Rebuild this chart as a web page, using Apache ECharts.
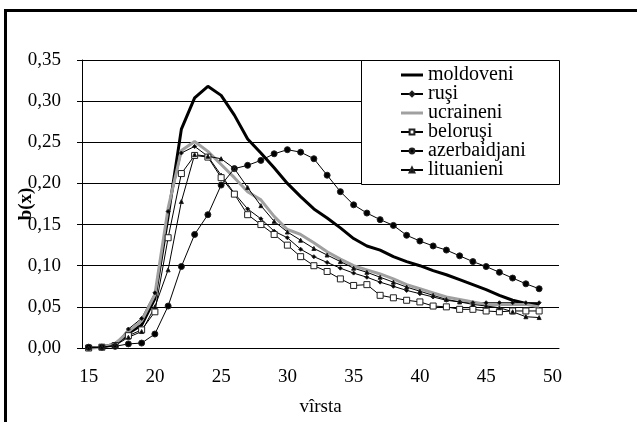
<!DOCTYPE html>
<html>
<head>
<meta charset="utf-8">
<style>
  html, body { margin: 0; padding: 0; background: #fff; }
  #chart { width: 637px; height: 422px; }
</style>
<script src="https://cdn.jsdelivr.net/npm/echarts@6/dist/echarts.min.js"></script>
</head>
<body>
<div id="chart"></div>
<script>
// varsta 15..50 (50 fara date)
var ages = [];
for (var a = 15; a <= 50; a++) ages.push(String(a));

var moldoveni = [0, 0.001, 0.005, 0.018, 0.028, 0.060, 0.160, 0.266, 0.304, 0.318,
  0.307, 0.283, 0.254, 0.237, 0.219, 0.200, 0.184, 0.169, 0.158, 0.146,
  0.133, 0.124, 0.119, 0.111, 0.105, 0.100, 0.094, 0.089, 0.083, 0.077,
  0.071, 0.064, 0.058, 0.054, 0.053];
var rusi = [0, 0.001, 0.005, 0.023, 0.036, 0.067, 0.166, 0.237, 0.245, 0.233,
  0.210, 0.188, 0.169, 0.157, 0.142, 0.134, 0.120, 0.111, 0.104, 0.097,
  0.091, 0.086, 0.080, 0.075, 0.070, 0.066, 0.062, 0.058, 0.056, 0.055,
  0.055, 0.055, 0.055, 0.055, 0.055];
var ucraineni = [0, 0.001, 0.005, 0.020, 0.033, 0.065, 0.170, 0.240, 0.251, 0.239,
  0.223, 0.207, 0.190, 0.180, 0.160, 0.144, 0.138, 0.128, 0.117, 0.108,
  0.100, 0.095, 0.090, 0.084, 0.077, 0.072, 0.067, 0.062, 0.059, 0.056,
  0.053, 0.053, 0.053, 0.053, 0.050];
var belorusi = [0, 0.001, 0.003, 0.015, 0.022, 0.044, 0.134, 0.212, 0.234, 0.232,
  0.207, 0.187, 0.162, 0.150, 0.138, 0.125, 0.111, 0.100, 0.093, 0.084,
  0.076, 0.077, 0.064, 0.061, 0.058, 0.056, 0.051, 0.050, 0.047, 0.047,
  0.045, 0.044, 0.045, 0.045, 0.045];
var azerbaidjani = [0.001, 0.001, 0.002, 0.005, 0.006, 0.017, 0.051, 0.099, 0.138, 0.162,
  0.198, 0.218, 0.222, 0.228, 0.236, 0.241, 0.238, 0.230, 0.210, 0.190,
  0.174, 0.164, 0.156, 0.149, 0.137, 0.130, 0.124, 0.119, 0.112, 0.105,
  0.099, 0.092, 0.085, 0.078, 0.072];
var lituanieni = [0, 0.001, 0.003, 0.013, 0.020, 0.050, 0.095, 0.178, 0.235, 0.233,
  0.230, 0.218, 0.195, 0.173, 0.154, 0.141, 0.131, 0.121, 0.113, 0.105,
  0.097, 0.092, 0.086, 0.080, 0.074, 0.069, 0.064, 0.059, 0.056, 0.053,
  0.051, 0.049, 0.044, 0.038, 0.037];

var font = "'Liberation Serif', 'Times New Roman', serif";
var thickIcon = 'path://M0,0 M22,6 M0,1.5 L22,1.5 L22,4.5 L0,4.5 Z';

var myChart = echarts.init(document.getElementById('chart'));

function thin(name, data, symbol, size, fill) {
  return {
    name: name,
    type: 'line',
    data: data,
    symbol: symbol,
    symbolSize: size,
    showAllSymbol: true,
    lineStyle: { color: '#000', width: 1 },
    itemStyle: { color: fill, borderColor: '#222', borderWidth: 1 }
  };
}

var option = {
  animation: false,
  backgroundColor: '#fff',
  textStyle: { fontFamily: font },
  grid: { left: 82, right: 78, top: 60, bottom: 74, containLabel: false, outerBoundsMode: 'none' },
  legend: {
    left: 400,
    top: 65,
    orient: 'vertical',
    padding: 0,
    itemGap: -1,
    itemWidth: 22,
    itemHeight: 6,
    textStyle: { fontFamily: font, fontSize: 20, color: '#000' },
    data: [
      { name: 'moldoveni', icon: thickIcon },
      'ruşi',
      { name: 'ucraineni', icon: thickIcon },
      'beloruşi', 'azerbaidjani', 'lituanieni'
    ],
    z: 5
  },
  graphic: [
    {
      type: 'rect',
      z: 3,
      shape: { x: 361.5, y: 60.5, width: 198, height: 124 },
      style: { fill: '#fff', stroke: '#000', lineWidth: 1 }
    },
    {
      type: 'polyline',
      z: 3,
      shape: { points: [[5.5, 430], [5.5, 10.5], [650, 10.5]] },
      style: { fill: null, stroke: '#000', lineWidth: 3 }
    }
  ],
  xAxis: {
    type: 'category',
    data: ages,
    boundaryGap: true,
    name: 'vîrsta',
    nameLocation: 'middle',
    nameGap: 50,
    nameMoveOverlap: false,
    nameTextStyle: { fontFamily: font, fontSize: 19, color: '#000' },
    axisLine: { lineStyle: { color: '#000', width: 1 } },
    axisTick: { interval: 0, length: 5, lineStyle: { color: '#000' } },
    axisLabel: { interval: 4, margin: 20, fontFamily: font, fontSize: 19, color: '#000' },
    splitLine: { show: false }
  },
  yAxis: {
    type: 'value',
    min: 0,
    max: 0.35,
    interval: 0.05,
    name: 'b(x)',
    nameLocation: 'middle',
    nameGap: 46,
    nameMoveOverlap: false,
    nameTextStyle: { fontFamily: font, fontSize: 19, fontWeight: 'bold', color: '#000' },
    axisLine: { show: true, lineStyle: { color: '#000', width: 1 } },
    axisTick: { show: true, length: 5, lineStyle: { color: '#000' } },
    axisLabel: {
      margin: 21, fontFamily: font, fontSize: 19, color: '#000',
      formatter: function (v) { return v.toFixed(2).replace('.', ','); }
    },
    splitLine: { show: true, lineStyle: { color: '#000', width: 1 } }
  },
  series: [
    {
      name: 'moldoveni', type: 'line', data: moldoveni, symbol: 'none',
      lineStyle: { color: '#000', width: 3 }, itemStyle: { color: '#000' }
    },
    thin('ruşi', rusi, 'diamond', 4, '#000'),
    {
      name: 'ucraineni', type: 'line', data: ucraineni, symbol: 'none',
      lineStyle: { color: '#a0a0a0', width: 3 }, itemStyle: { color: '#a0a0a0' }
    },
    thin('beloruşi', belorusi, 'rect', 6, '#fff'),
    thin('azerbaidjani', azerbaidjani, 'circle', 6, '#000'),
    thin('lituanieni', lituanieni, 'triangle', 4, '#000')
  ]
};

myChart.setOption(option);
window.addEventListener('resize', function () { myChart.resize(); });
</script>
</body>
</html>
